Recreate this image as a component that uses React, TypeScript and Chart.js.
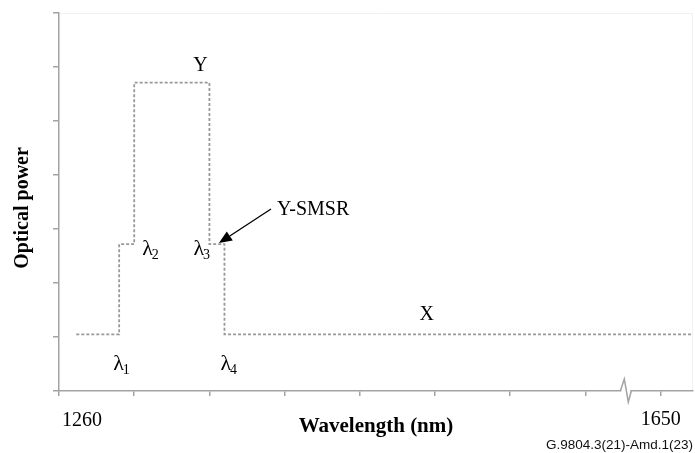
import { useEffect, useRef } from 'react';
import { Chart, registerables } from 'chart.js';

Chart.register(...registerables);

// Step edges of the spectral mask, in axis units (one unit = one x tick)
const stepEdges = [0.23, 0.8, 1.0, 2.0, 2.2, 8.43];
// Optical power level starting at each edge (arbitrary units, y ticks 0..7)
const stepLevels = [1.05, 2.72, 5.71, 2.72, 1.05, 1.05];
// X tick labels (ticks 0..8)
const xTickLabels = ['1260', '', '', '', '', '', '', '', '1650'];
const xMax = 8.43;
const yMax = 7;
const axisBreakAt = 7.53;

const AXIS = '#a3a3a3';
const SERIF = '"Liberation Serif", "Times New Roman", serif';

const annotations = {
  id: 'annotations',
  afterDraw(chart: any) {
    const { ctx, chartArea, scales } = chart;
    const xs = scales.x;
    const ys = scales.y;
    ctx.save();

    // faint frame (top & right)
    ctx.strokeStyle = '#f1f1f1';
    ctx.lineWidth = 1;
    ctx.beginPath();
    ctx.moveTo(chartArea.left + 1, chartArea.top + 0.5);
    ctx.lineTo(chartArea.right - 0.5, chartArea.top + 0.5);
    ctx.lineTo(chartArea.right - 0.5, chartArea.bottom - 1);
    ctx.stroke();

    // axis break zigzag
    const bx = xs.getPixelForValue(axisBreakAt);
    const by = chartArea.bottom;
    ctx.fillStyle = '#fff';
    ctx.fillRect(bx - 4, by - 2, 9, 4);
    ctx.strokeStyle = AXIS;
    ctx.lineWidth = 1.5;
    ctx.beginPath();
    ctx.moveTo(bx - 5, by);
    ctx.lineTo(bx - 1, by - 12);
    ctx.lineTo(bx + 3, by + 11);
    ctx.lineTo(bx + 6, by);
    ctx.stroke();

    ctx.fillStyle = '#000';
    ctx.textBaseline = 'alphabetic';

    // x tick labels
    ctx.font = `20px ${SERIF}`;
    xTickLabels.forEach((lab, i) => {
      if (!lab) return;
      const px = xs.getPixelForValue(i);
      if (i === 0) {
        ctx.textAlign = 'left';
        ctx.fillText(lab, px + 3, 426);
      } else {
        ctx.textAlign = 'center';
        ctx.fillText(lab, px, 425);
      }
    });

    // axis titles
    ctx.font = `bold 21px ${SERIF}`;
    ctx.textAlign = 'center';
    ctx.fillText('Wavelength (nm)', (chartArea.left + chartArea.right) / 2 + 0, 432);

    ctx.save();
    ctx.translate(28, (chartArea.top + chartArea.bottom) / 2 + 6);
    ctx.rotate(-Math.PI / 2);
    ctx.font = `bold 20px ${SERIF}`;
    ctx.textAlign = 'center';
    ctx.fillText('Optical power', 0, 0);
    ctx.restore();

    // lambda labels
    const lam = (sub: string, left: number, base: number) => {
      ctx.textAlign = 'left';
      ctx.font = `22px ${SERIF}`;
      ctx.fillText('\u03bb', left, base);
      const w = ctx.measureText('\u03bb').width;
      ctx.font = `14px ${SERIF}`;
      ctx.fillText(sub, left + w - 1, base + 4);
    };
    const yLow = ys.getPixelForValue(stepLevels[0]);
    const yMid = ys.getPixelForValue(stepLevels[1]);
    const yTop = ys.getPixelForValue(stepLevels[2]);
    lam('1', xs.getPixelForValue(stepEdges[1]) - 6, yLow + 36);
    lam('2', xs.getPixelForValue(stepEdges[2]) + 8, yMid + 11);
    lam('3', xs.getPixelForValue(stepEdges[3]) - 16, yMid + 11);
    lam('4', xs.getPixelForValue(stepEdges[4]) - 4, yLow + 36);

    // Y and X labels
    ctx.font = `20px ${SERIF}`;
    ctx.textAlign = 'center';
    ctx.fillText('Y', xs.getPixelForValue(stepEdges[3]) - 9, yTop - 12);
    ctx.fillText('X', xs.getPixelForValue(4.89), yLow - 14);

    // Y-SMSR label and arrow
    ctx.textAlign = 'left';
    ctx.fillText('Y-SMSR', 277, 215);
    const sx = 271, sy = 209;
    const tx = xs.getPixelForValue(stepEdges[3]) + 9.5, ty = yMid - 1;
    const ang = Math.atan2(ty - sy, tx - sx);
    const hl = 13, hw = 5.5;
    const bxh = tx - hl * Math.cos(ang), byh = ty - hl * Math.sin(ang);
    ctx.strokeStyle = '#000';
    ctx.lineWidth = 1.3;
    ctx.beginPath();
    ctx.moveTo(sx, sy);
    ctx.lineTo(bxh, byh);
    ctx.stroke();
    ctx.beginPath();
    ctx.moveTo(tx, ty);
    ctx.lineTo(bxh + hw * Math.sin(ang), byh - hw * Math.cos(ang));
    ctx.lineTo(bxh - hw * Math.sin(ang), byh + hw * Math.cos(ang));
    ctx.closePath();
    ctx.fillStyle = '#000';
    ctx.fill();

    // figure reference
    ctx.font = '13.5px "Liberation Sans", Arial, sans-serif';
    ctx.textAlign = 'left';
    ctx.fillStyle = '#111';
    ctx.fillText('G.9804.3(21)-Amd.1(23)', 546, 449);

    ctx.restore();
  },
};

export default function App() {
  const ref = useRef<HTMLCanvasElement>(null);

  useEffect(() => {
    document.body.style.margin = '0';
    const canvas = ref.current;
    if (!canvas) return;
    const chart = new Chart(canvas, {
      type: 'line',
      data: {
        datasets: [
          {
            data: stepEdges.map((e, i) => ({ x: e, y: stepLevels[i] })),
            stepped: 'before',
            borderColor: '#999999',
            borderWidth: 1.8,
            borderDash: [3, 2],
            pointRadius: 0,
            fill: false,
            clip: false as any,
          },
        ],
      },
      options: {
        responsive: false,
        animation: false,
        layout: { padding: { left: 53, right: 2, top: 13, bottom: 57 } },
        plugins: { legend: { display: false }, tooltip: { enabled: false } },
        scales: {
          x: {
            type: 'linear',
            min: 0,
            max: xMax,
            ticks: { display: false, stepSize: 1, includeBounds: false },
            grid: {
              display: true,
              drawOnChartArea: false,
              drawTicks: true,
              tickLength: 5,
              color: AXIS,
              lineWidth: 1.5,
            },
            border: { display: true, color: AXIS, width: 1.5 },
            afterFit: (s: any) => {
              s.height = 5;
            },
          },
          y: {
            type: 'linear',
            min: 0,
            max: yMax,
            ticks: { display: false, stepSize: 1 },
            grid: {
              display: true,
              drawOnChartArea: false,
              drawTicks: true,
              tickLength: 6,
              color: AXIS,
              lineWidth: 1.5,
            },
            border: { display: true, color: AXIS, width: 1.5 },
            afterFit: (s: any) => {
              s.width = 6;
            },
          },
        },
      },
      plugins: [annotations],
    });
    return () => chart.destroy();
  }, []);

  return (
    <div style={{ position: 'absolute', left: 0, top: 0, width: 695, height: 453, background: '#fff' }}>
      <canvas ref={ref} width={695} height={453} style={{ display: 'block' }} />
    </div>
  );
}
